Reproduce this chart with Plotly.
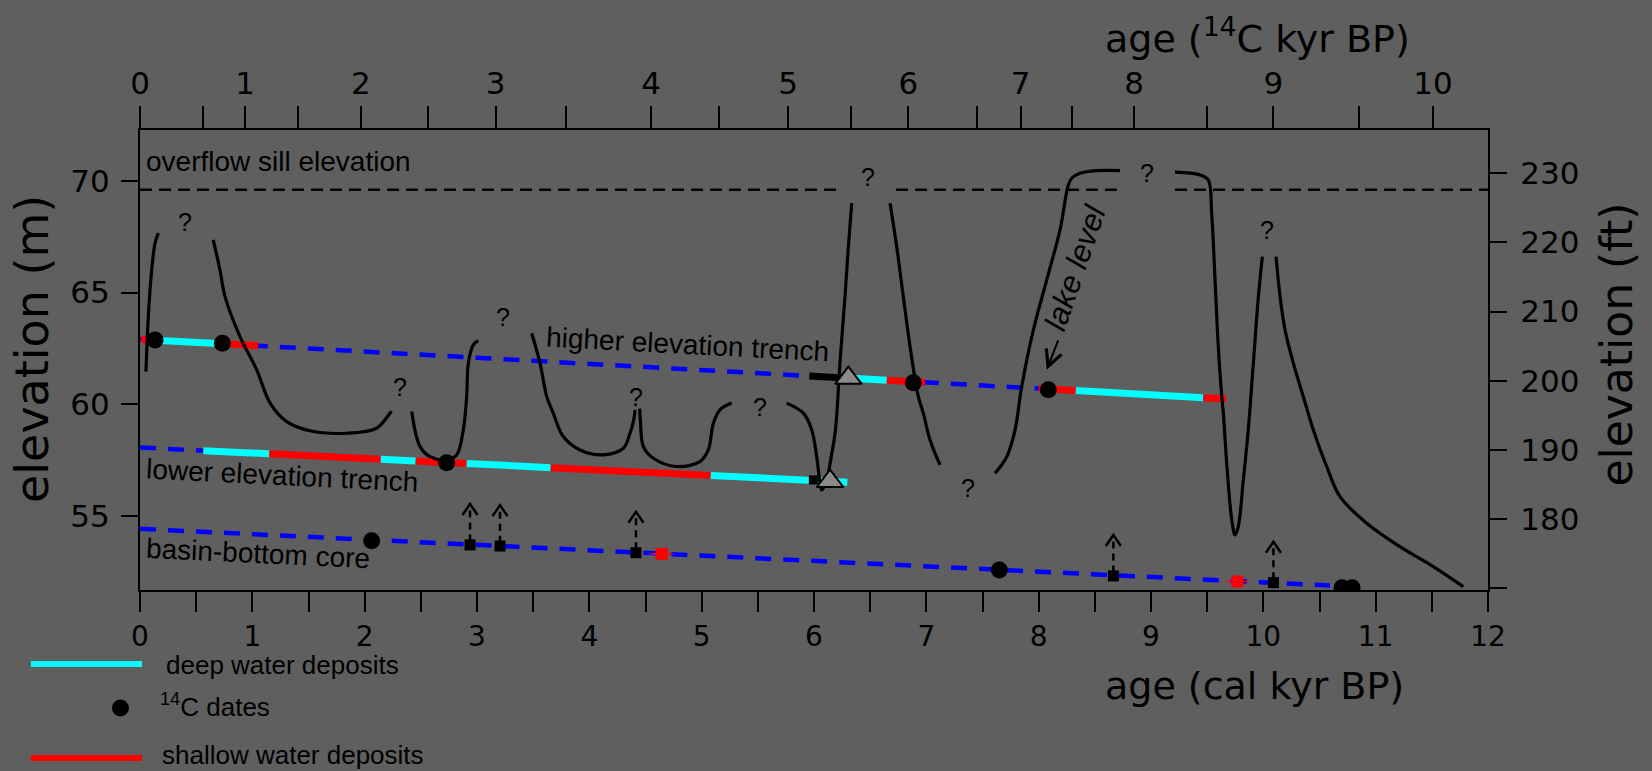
import plotly.graph_objects as go

# ---------------- axis ticks ----------------
cal_tick_vals = [i * 0.5 for i in range(25)]
cal_tick_text = [str(i // 2) if i % 2 == 0 else "" for i in range(25)]
c14_tick_pos = [0, 0.56, 0.935, 1.41, 1.965, 2.56, 3.166, 3.79, 4.55, 5.15, 5.77,
                6.33, 6.84, 7.45, 7.84, 8.30, 8.85, 9.50, 10.09, 10.85, 11.51]
c14_tick_text = ["0", "", "1", "", "2", "", "3", "", "4", "", "5", "", "6", "",
                 "7", "", "8", "", "9", "", "10"]
m_tick_vals = [55, 60, 65, 70]
ft_tick_vals = [170, 180, 190, 200, 210, 220, 230]
ft_tick_text = ["", "180", "190", "200", "210", "220", "230"]

# ---------------- overflow sill ----------------
sill_elev = 69.6
sill_from = [0.0, 6.73, 9.214]
sill_to = [6.247, 8.724, 12.0]

# ---------------- trenches / core ----------------
high_line_x = [0.0, 9.668]
high_line_y = [62.91, 60.24]
high_bp_x = [0.01, 0.134, 0.733, 1.053, 5.958, 6.23, 6.306, 6.648, 6.988, 8.0, 8.33, 9.466, 9.668]
high_bp_y = [62.91, 62.87, 62.71, 62.62, 61.26, 61.19, 61.17, 61.07, 60.98, 60.70, 60.61, 60.29, 60.24]
high_facies = ["shallow", "deep", "shallow", "", "black", "", "deep", "shallow", "",
               "shallow", "deep", "shallow"]

low_line_x = [0.0, 0.564]
low_line_y = [58.06, 57.92]
low_bp_x = [0.564, 1.151, 2.143, 2.454, 2.908, 3.656, 5.081, 6.297]
low_bp_y = [57.92, 57.78, 57.53, 57.46, 57.35, 57.16, 56.81, 56.51]
low_facies = ["deep", "shallow", "deep", "shallow", "deep", "shallow", "deep"]

core_line_x = [0.0, 10.594]
core_line_y = [54.42, 51.88]

# 14C dates
dates_x = [0.134, 0.733, 6.884, 8.086, 2.730, 2.062, 7.65, 10.70, 10.79]
dates_y = [62.88, 62.73, 60.96, 60.65, 57.38, 53.89, 52.58, 51.78, 51.78]
# minimum-age samples (black squares with arrows)
min_x = [2.938, 3.205, 4.415, 8.665, 10.09]
min_y = [53.70, 53.65, 53.35, 52.31, 52.01]
# shallow-water samples in core
shal_x = [4.644, 9.769]
shal_y = [53.30, 52.06]
shal_err = [0.10, 0.10]
# small sample in lower trench
trench_sq_x = [5.994]
trench_sq_y = [56.61]
# triangles
tri_x = [6.306, 6.143]
tri_y = [61.17, 56.55]

# ---------------- lake level curve ----------------
lake_segments_x = [
    [0.053, 0.074, 0.104, 0.134, 0.163],
    [0.652, 0.712, 0.757, 0.890, 1.039, 1.157, 1.306, 1.513, 1.840, 2.107, 2.226, 2.241],
    [2.419, 2.493, 2.582, 2.730, 2.819, 2.878, 2.908, 2.923, 2.967, 3.012],
    [3.487, 3.561, 3.621, 3.679, 3.768, 3.917, 4.124, 4.303, 4.362, 4.392, 4.407],
    [4.448, 4.455, 4.481, 4.570, 4.778, 4.985, 5.059, 5.104, 5.163, 5.267],
    [5.757, 5.905, 5.980, 6.024, 6.054, 6.069, 6.113, 6.156, 6.191, 6.231, 6.276, 6.306, 6.336],
    [6.677, 6.736, 6.795, 6.855, 6.929, 6.973, 7.033, 7.122],
    [7.612, 7.716, 7.790, 7.849, 7.953, 8.072, 8.190, 8.264, 8.294, 8.368, 8.517, 8.724],
    [9.214, 9.436, 9.510, 9.540, 9.570, 9.599, 9.630, 9.644, 9.674, 9.719, 9.748, 9.777,
     9.822, 9.866, 9.911, 9.956, 9.991],
    [10.113, 10.149, 10.193, 10.267, 10.356, 10.445, 10.564, 10.683, 10.920, 11.216, 11.513, 11.780],
]
lake_segments_y = [
    [61.46, 63.92, 66.01, 67.21, 67.66],
    [67.36, 66.01, 64.82, 63.03, 61.54, 60.06, 59.22, 58.81, 58.70, 58.93, 59.60, 59.67],
    [59.67, 58.10, 57.65, 57.51, 57.73, 58.85, 60.34, 61.84, 62.66, 62.85],
    [63.18, 61.84, 60.34, 59.60, 58.55, 57.95, 57.73, 58.03, 58.70, 59.22, 59.75],
    [59.80, 59.22, 58.10, 57.58, 57.21, 57.43, 57.95, 59.15, 59.75, 60.05],
    [60.05, 59.60, 58.85, 57.65, 56.46, 56.16, 56.61, 57.73, 58.85, 61.84, 64.82, 67.06, 69.00],
    [69.00, 67.06, 64.82, 62.58, 60.34, 59.60, 58.40, 57.28],
    [56.91, 57.65, 58.85, 60.79, 63.33, 65.57, 67.81, 69.82, 70.12, 70.34, 70.46, 70.46],
    [70.39, 70.27, 70.04, 68.55, 65.57, 62.58, 60.34, 59.60, 57.36, 54.82, 54.15, 54.52,
     56.61, 58.85, 61.84, 64.82, 66.61],
    [66.61, 64.82, 63.33, 61.84, 60.34, 58.85, 57.21, 55.86, 54.67, 53.62, 52.73, 51.83],
]
# question marks
q_x = [0.40, 2.315, 3.234, 4.415, 5.519, 6.484, 7.374, 8.962, 10.030]
q_y = [68.18, 60.79, 63.92, 60.34, 59.89, 70.19, 56.24, 70.34, 67.81]
# lake-level pointer (tip, in data units)
lake_arrow_x = 8.072
lake_arrow_y = 61.54

# ---------------- styles ----------------
BG = "#5f5f5f"
CYAN = "#00ffff"
RED = "#ff0000"
BLUE = "#0000ff"
TICK_FONT = dict(family="DejaVu Sans", size=31, color="black")
BOTTOM_TICK_FONT = dict(family="DejaVu Sans", size=28, color="black")
TITLE_FAMILY = "DejaVu Sans"
LABEL_FAMILY = "Liberation Sans"
facies_color = {"deep": CYAN, "shallow": RED, "black": "black"}

fig = go.Figure()

def line(x, y, color, width, dash=None, shape="linear", **kw):
    fig.add_trace(go.Scatter(x=x, y=y, mode="lines", hoverinfo="skip",
                             line=dict(color=color, width=width, dash=dash, shape=shape), **kw))

# sill line
sx, sy = [], []
for a, b in zip(sill_from, sill_to):
    sx += [a, b, None]
    sy += [sill_elev, sill_elev, None]
line(sx, sy, "black", 2.5, dash="12px,7px")

# blue dashed correlation lines
for lx, ly in [(high_line_x, high_line_y), (low_line_x, low_line_y), (core_line_x, core_line_y)]:
    line(lx, ly, BLUE, 4.5, dash="16px,12px")

# facies segments
for bx, by, fac in [(high_bp_x, high_bp_y, high_facies), (low_bp_x, low_bp_y, low_facies)]:
    for i, f in enumerate(fac):
        if f:
            line([bx[i], bx[i + 1]], [by[i], by[i + 1]], facies_color[f], 7)

# lake-level curve
lx, ly = [], []
for xs, ys in zip(lake_segments_x, lake_segments_y):
    lx += xs + [None]
    ly += ys + [None]
line(lx, ly, "black", 3.2, shape="spline", connectgaps=False)

# arrows above minimum-age samples
arrow_rise = 1.83
chev_dx, chev_dy = 0.067, 0.49
stem_x, stem_y, chev_x, chev_y = [], [], [], []
for x, y in zip(min_x, min_y):
    tip = y + arrow_rise
    stem_x += [x, x, None]
    stem_y += [y + 0.15, tip - 0.1, None]
    chev_x += [x - chev_dx, x, x + chev_dx, None]
    chev_y += [tip - chev_dy, tip, tip - chev_dy, None]
line(stem_x, stem_y, "black", 2.5, dash="7px,5px")
line(chev_x, chev_y, "black", 2.5)

# markers
fig.add_trace(go.Scatter(x=min_x, y=min_y, mode="markers", hoverinfo="skip",
                         marker=dict(symbol="square", size=11, color="black")))
fig.add_trace(go.Scatter(x=trench_sq_x, y=trench_sq_y, mode="markers", hoverinfo="skip",
                         marker=dict(symbol="square", size=9, color="black")))
fig.add_trace(go.Scatter(x=shal_x, y=shal_y, mode="markers", hoverinfo="skip",
                         error_x=dict(type="data", array=shal_err, color=RED, thickness=1.5, width=0),
                         marker=dict(symbol="square", size=12, color=RED)))
fig.add_trace(go.Scatter(x=dates_x, y=dates_y, mode="markers", hoverinfo="skip",
                         marker=dict(symbol="circle", size=17, color="black")))
fig.add_trace(go.Scatter(x=tri_x, y=tri_y, mode="markers", hoverinfo="skip",
                         marker=dict(symbol="triangle-up", size=23, color="#8a8a8a",
                                     line=dict(color="black", width=2))))

# secondary axes carriers
fig.add_trace(go.Scatter(x=[0], y=[200], xaxis="x2", yaxis="y2", mode="markers",
                         marker=dict(opacity=0), hoverinfo="skip"))

# ---------------- annotations ----------------
ann = []
for x, y in zip(q_x, q_y):
    ann.append(dict(x=x, y=y, text="?", showarrow=False,
                    font=dict(family=LABEL_FAMILY, size=25, color="black")))
lab_font = dict(family=LABEL_FAMILY, size=28, color="black")
def pap(x, y, text, size, family=TITLE_FAMILY, xanchor="center", angle=0):
    return dict(xref="paper", yref="paper", x=x, y=y, text=text, textangle=angle,
                xanchor=xanchor, yanchor="middle", showarrow=False,
                font=dict(family=family, size=size, color="black"))

ann += [
    dict(x=0.04, y=70.85, text="overflow sill elevation", xanchor="left", yanchor="middle",
         showarrow=False, font=lab_font),
    dict(x=4.874, y=62.66, text="higher elevation trench", textangle=3, showarrow=False, font=lab_font),
    dict(x=1.261, y=56.83, text="lower elevation trench", textangle=2.8, showarrow=False, font=lab_font),
    dict(x=1.050, y=53.30, text="basin-bottom core", textangle=2.7, showarrow=False, font=lab_font),
    dict(x=8.32, y=66.10, text="<i>lake level</i>", textangle=-71, showarrow=False,
         font=dict(family=LABEL_FAMILY, size=31, color="black")),
    dict(x=lake_arrow_x, y=lake_arrow_y, ax=12, ay=-31, axref="pixel", ayref="pixel",
         text="", showarrow=True, arrowhead=5, arrowsize=1.6, arrowwidth=2, arrowcolor="black"),
    # axis titles
    pap(-0.0801, 0.524, "elevation (m)", 46, angle=-90),
    pap(1.0951, 0.534, "elevation (ft)", 44, angle=-90),
    pap(0.8271, -0.2080, "age (cal kyr BP)", 38),
    pap(0.8290, 1.2050, "age (<sup>14</sup>C kyr BP)", 38),
    # legend texts
    pap(0.0178, -0.1635, "deep water deposits", 26, family=LABEL_FAMILY, xanchor="left"),
    pap(0.0134, -0.2520, "<sup>14</sup>C dates", 26, family=LABEL_FAMILY, xanchor="left"),
    pap(0.0148, -0.3587, "shallow water deposits", 26, family=LABEL_FAMILY, xanchor="left"),
]

shapes = [
    dict(type="line", xref="paper", yref="paper", x0=-0.0809, x1=0.0015, y0=-0.1609, y1=-0.1609,
         line=dict(color=CYAN, width=6)),
    dict(type="line", xref="paper", yref="paper", x0=-0.0809, x1=0.0015, y0=-0.3652, y1=-0.3652,
         line=dict(color=RED, width=6)),
    dict(type="circle", xref="paper", yref="paper", xsizemode="pixel", ysizemode="pixel",
         xanchor=-0.0145, yanchor=-0.2565, x0=-8.5, x1=8.5, y0=-8.5, y1=8.5,
         fillcolor="black", line=dict(color="black", width=0)),
]

axis_common = dict(showgrid=False, zeroline=False, showline=True, linecolor="black", linewidth=2,
                   ticks="outside", tickcolor="black", tickwidth=1.5)

fig.update_layout(
    width=1652, height=771,
    margin=dict(l=140, r=164, t=130, b=181, pad=0),
    paper_bgcolor=BG, plot_bgcolor=BG,
    showlegend=False,
    xaxis=dict(range=[0, 12], tickmode="array", tickvals=cal_tick_vals, ticktext=cal_tick_text,
               ticklen=20, tickfont=BOTTOM_TICK_FONT, **axis_common),
    xaxis2=dict(range=[0, 12], overlaying="x", side="top", anchor="y", tickmode="array",
                tickvals=c14_tick_pos, ticktext=c14_tick_text, ticklen=22, tickfont=TICK_FONT,
                **axis_common),
    yaxis=dict(range=[51.68, 72.28], tickmode="array", tickvals=m_tick_vals, ticklen=17,
               ticklabelstandoff=5, tickfont=TICK_FONT, **axis_common),
    yaxis2=dict(range=[169.73, 236.26], overlaying="y", side="right", anchor="x", tickmode="array",
                tickvals=ft_tick_vals, ticktext=ft_tick_text, ticklen=17,
                ticklabelstandoff=7, tickfont=TICK_FONT, **axis_common),
    annotations=ann,
    shapes=shapes,
)

fig.write_html("out.html", config={"displayModeBar": False},
               post_script="document.body.style.margin='0';document.body.style.overflow='hidden';")
